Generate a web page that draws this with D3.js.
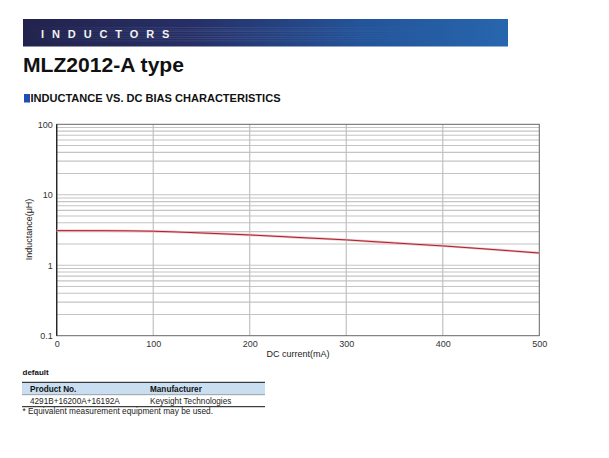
<!DOCTYPE html>
<html>
<head>
<meta charset="utf-8">
<script src="https://cdn.jsdelivr.net/npm/d3@7"></script>
<style>
  body { margin: 0; background: #fff; }
  text { font-family: "Liberation Sans", Arial, sans-serif; }
</style>
</head>
<body>
<div class="chart"></div>
<script>
// values
const currentMA = [0, 50, 100, 150, 200, 250, 300, 350, 400, 450, 500]
const inductanceUH = [3.10, 3.09, 3.04, 2.87, 2.69, 2.48, 2.29, 2.07, 1.88, 1.68, 1.49]
const xTicks = [0, 100, 200, 300, 400, 500]
const yTicks = [0.1, 1, 10, 100]
const tableHeader = ["Product No.", "Manufacturer"]
const tableRow = ["4291B+16200A+16192A", "Keysight Technologies"]

const margin = {top: 124.3, right: 69.7, bottom: 122.3, left: 56.7}
const W = 609, H = 458
const width = W - margin.left - margin.right
const height = H - margin.top - margin.bottom

const svg = d3.select(".chart").append("svg").attr("width", W).attr("height", H)

// banner
const defs = svg.append("defs")
const grad = defs.append("linearGradient").attr("id", "band")
grad.append("stop").attr("offset", "0%").attr("stop-color", "#22234d")
grad.append("stop").attr("offset", "35%").attr("stop-color", "#262f66")
grad.append("stop").attr("offset", "70%").attr("stop-color", "#24549a")
grad.append("stop").attr("offset", "100%").attr("stop-color", "#2766ad")
const streak = defs.append("linearGradient").attr("id", "streak")
streak.append("stop").attr("offset", "0%").attr("stop-color", "#fff").attr("stop-opacity", 0)
streak.append("stop").attr("offset", "40%").attr("stop-color", "#aab8e0").attr("stop-opacity", 0.18)
streak.append("stop").attr("offset", "85%").attr("stop-color", "#aab8e0").attr("stop-opacity", 0)

svg.append("rect").attr("x", 23).attr("y", 19).attr("width", 485).attr("height", 27.5).attr("fill", "url(#band)")
;[27, 29.5, 31, 33.5, 36, 38, 40.5].forEach(y => {
  svg.append("rect").attr("x", 23).attr("y", y).attr("width", 485).attr("height", 0.8).attr("fill", "url(#streak)")
})
svg.append("text").attr("x", 41).attr("y", 37.5).text("INDUCTORS")
  .style("font-size", "11px").style("font-weight", "bold").style("fill", "#f2f2f2").style("letter-spacing", "7.9px")

svg.append("text").attr("x", 23).attr("y", 72).text("MLZ2012-A type")
  .attr("textLength", 161).attr("lengthAdjust", "spacingAndGlyphs")
  .style("font-size", "20.5px").style("font-weight", "bold").style("fill", "#111")

svg.append("rect").attr("x", 24).attr("y", 94).attr("width", 6).attr("height", 8.5).attr("fill", "#1f4fb4")
svg.append("text").attr("x", 30.5).attr("y", 102.3).text("INDUCTANCE VS. DC BIAS CHARACTERISTICS")
  .attr("textLength", 250).attr("lengthAdjust", "spacingAndGlyphs")
  .style("font-size", "11px").style("font-weight", "bold").style("fill", "#111")

// plot
const g = svg.append("g").attr("transform", `translate(${margin.left},${margin.top})`)

const x = d3.scaleLinear().domain([0, 500]).range([0, width])
const y = d3.scaleLog().domain([0.1, 100]).range([height, 0])

const minor = []
;[0.1, 1, 10].forEach(d => { for (let k = 2; k <= 10; k++) minor.push(d * k) })

g.selectAll(".hgrid").data(minor.filter(v => v < 100)).enter().append("line")
  .attr("x1", 0).attr("x2", width)
  .attr("y1", d => y(d)).attr("y2", d => y(d))
  .style("stroke", "#c4c4c4").style("stroke-width", 1.1)

g.selectAll(".vgrid").data(xTicks.slice(1, -1)).enter().append("line")
  .attr("x1", d => x(d)).attr("x2", d => x(d))
  .attr("y1", 0).attr("y2", height)
  .style("stroke", "#bcbcbc").style("stroke-width", 1.1)

// frame
g.append("rect").attr("width", width).attr("height", height)
  .style("fill", "none").style("stroke", "#666").style("stroke-width", 1)
g.append("line").attr("x1", 0).attr("x2", 0).attr("y1", 0).attr("y2", height)
  .style("stroke", "#222").style("stroke-width", 1.3)

const line = d3.line().x((d, i) => x(currentMA[i])).y(d => y(d)).curve(d3.curveMonotoneX)
g.append("path").datum(inductanceUH).attr("d", line)
  .style("fill", "none").style("stroke", "#f2b9bd").style("stroke-width", 2.4)
g.append("path").datum(inductanceUH).attr("d", line)
  .style("fill", "none").style("stroke", "#a5232f").style("stroke-width", 1)

// axes
const xa = g.append("g").attr("transform", `translate(0,${height})`)
  .call(d3.axisBottom(x).tickValues(xTicks).tickSize(0).tickPadding(5))
xa.select(".domain").remove()
xa.selectAll("text").style("font-family", "Liberation Sans").style("font-size", "9px").style("fill", "#333")

const ya = g.append("g")
  .call(d3.axisLeft(y).tickValues(yTicks).tickFormat(d3.format("~g")).tickSize(0).tickPadding(4))
ya.select(".domain").remove()
ya.selectAll("text").style("font-family", "Liberation Sans").style("font-size", "9px").style("fill", "#333")

svg.append("text").attr("x", margin.left + width / 2).attr("y", 357).attr("text-anchor", "middle")
  .text("DC current(mA)").style("font-size", "9px").style("fill", "#222")
svg.append("text").attr("transform", "translate(31.5,229.5) rotate(-90)").attr("text-anchor", "middle")
  .text("Inductance(μH)").style("font-size", "9px").style("fill", "#222")

// measurement table
svg.append("text").attr("x", 22.5).attr("y", 374.5).text("default")
  .style("font-size", "8px").style("font-weight", "bold").style("fill", "#111")
svg.append("rect").attr("x", 22).attr("y", 382.3).attr("width", 243).attr("height", 12.4).attr("fill", "#c9def0")
svg.append("line").attr("x1", 22).attr("x2", 265).attr("y1", 382.3).attr("y2", 382.3).style("stroke", "#111").style("stroke-width", 1)
svg.append("line").attr("x1", 22).attr("x2", 265).attr("y1", 394.7).attr("y2", 394.7).style("stroke", "#555").style("stroke-width", 0.5)
svg.append("line").attr("x1", 22).attr("x2", 265).attr("y1", 406.7).attr("y2", 406.7).style("stroke", "#111").style("stroke-width", 1)

const colX = [30, 150]
svg.selectAll(".th").data(tableHeader).enter().append("text")
  .attr("x", (d, i) => colX[i]).attr("y", 391.5).text(d => d)
  .style("font-size", "8.2px").style("font-weight", "bold").style("fill", "#111")
svg.selectAll(".td").data(tableRow).enter().append("text")
  .attr("x", (d, i) => colX[i]).attr("y", 404.3).text(d => d)
  .style("font-size", "8.2px").style("fill", "#222")
svg.append("text").attr("x", 22.5).attr("y", 414).text("* Equivalent measurement equipment may be used.")
  .style("font-size", "8.3px").style("fill", "#222")
</script>
</body>
</html>
